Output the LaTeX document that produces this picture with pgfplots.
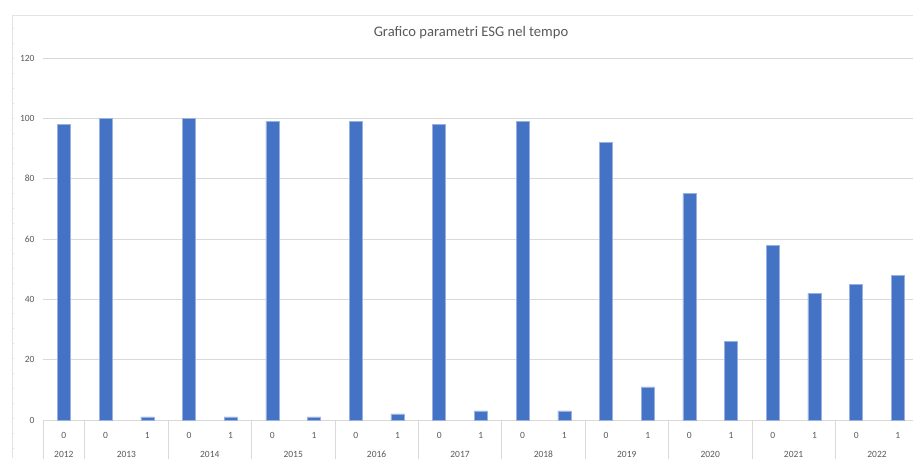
\documentclass[border=0pt]{standalone}
\usepackage{pgfplots}
\pgfplotsset{compat=1.18}
\usepackage{pgfplotstable}
\usepackage{fontspec}
\setmainfont{Carlito}

\definecolor{barblue}{HTML}{4472C4}
\definecolor{gridgray}{HTML}{D9D9D9}
\definecolor{framegray}{HTML}{E3E3E3}
\definecolor{txtgray}{HTML}{595959}

% one slot per (year, flag) pair; 2012 has only flag 0
\pgfplotstableread{
pos value
0  98
1  100
2  1
3  100
4  1
5  99
6  1
7  99
8  2
9  98
10 3
11 99
12 3
13 92
14 11
15 75
16 26
17 58
18 42
19 45
20 48
}\esgdata

\tikzset{yearlbl/.style={anchor=base, text=txtgray, font=\fontsize{9.5}{11}\selectfont, yshift=-37pt}}

\begin{document}
\begin{tikzpicture}[x=1pt,y=1pt]
\useasboundingbox (0,0) rectangle (913,458);
\fill[white] (0,0) rectangle (913,458);
% chart frame
\draw[framegray, line width=0.8pt] (12,0) -- (12,443) -- (913,443);
\foreach \t in {0,...,28} \draw[framegray, line width=0.5pt] (12,{430-15*\t}) -- (14,{430-15*\t});
% title
\node[text=txtgray, font=\fontsize{14.6}{17}\selectfont] at (471,425) {Grafico parametri ESG nel tempo};
\begin{axis}[
  at={(43pt,38pt)}, anchor=south west,
  scale only axis, width=870pt, height=362pt,
  xmin=-0.5, xmax=20.363, ymin=0, ymax=120,
  ybar, bar width=13pt,
  axis line style={draw=none},
  ymajorgrids, grid style={gridgray, line width=0.8pt},
  major tick length=0pt,
  ytick={0,20,...,120},
  xtick={0,...,20},
  xticklabels={0,0,1,0,1,0,1,0,1,0,1,0,1,0,1,0,1,0,1,0,1},
  tick label style={text=txtgray, font=\fontsize{9.5}{11}\selectfont},
  /pgf/number format/assume math mode=true,
  yticklabel style={anchor=east, xshift=-5pt},
  xticklabel style={anchor=base, yshift=-18pt},
  clip=false,
]
\addplot[fill=barblue, draw=barblue!55!white, line width=0.5pt] table[x=pos, y=value] {\esgdata};
% boundaries between the year groups
\pgfplotsinvokeforeach{-0.5,0.5,2.5,4.5,6.5,8.5,10.5,12.5,14.5,16.5,18.5}{
  \draw[gridgray, line width=0.8pt] (axis cs:#1,0) -- ++(0pt,-40pt);
}
% year row of the category axis
\node[yearlbl] at (axis cs:0,0) {2012};
\node[yearlbl] at (axis cs:1.5,0) {2013};
\node[yearlbl] at (axis cs:3.5,0) {2014};
\node[yearlbl] at (axis cs:5.5,0) {2015};
\node[yearlbl] at (axis cs:7.5,0) {2016};
\node[yearlbl] at (axis cs:9.5,0) {2017};
\node[yearlbl] at (axis cs:11.5,0) {2018};
\node[yearlbl] at (axis cs:13.5,0) {2019};
\node[yearlbl] at (axis cs:15.5,0) {2020};
\node[yearlbl] at (axis cs:17.5,0) {2021};
\node[yearlbl] at (axis cs:19.5,0) {2022};
\end{axis}
\end{tikzpicture}
\end{document}
